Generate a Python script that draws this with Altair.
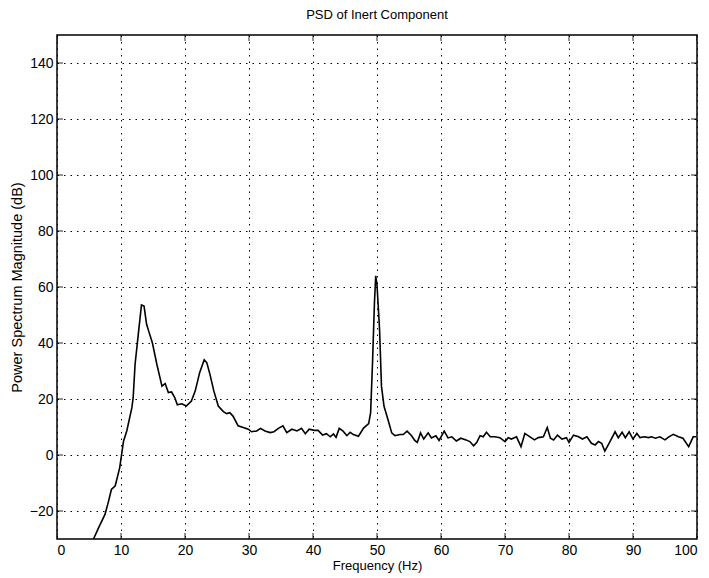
import altair as alt
import pandas as pd

# Frequency (Hz) and PSD magnitude (dB)
freq = [5.7, 6.6, 7.5, 8.0, 8.5, 9.1, 9.8, 10.4, 10.9, 11.7, 11.9, 12.2, 12.7, 13.2, 13.6,
        14.0, 14.4, 14.9, 15.6, 16.4, 16.9, 17.4, 17.9, 18.4, 18.8, 19.5, 20.2, 21.0, 21.6,
        22.3, 23.0, 23.4, 23.9, 24.5, 25.2, 26.0, 26.5, 27.0, 27.5, 28.3, 29.1, 29.9, 30.4,
        31.2, 31.8, 32.5, 33.3, 33.9, 34.6, 35.3, 35.9, 36.7, 37.5, 38.2, 38.8, 39.4, 40.2,
        40.8, 41.5, 42.1, 42.7, 43.2, 43.6, 44.1, 44.7, 45.3, 45.8, 46.3, 47.1, 47.9, 48.7,
        49.0, 49.3, 49.6, 49.8, 50.0, 50.4, 50.7, 51.1, 51.8, 52.3, 52.8, 53.6, 54.1, 54.7,
        55.4, 55.9, 56.3, 56.8, 57.3, 58.0, 58.5, 59.2, 59.7, 60.5, 61.1, 61.7, 62.4, 63.1,
        63.9, 64.5, 65.1, 65.6, 66.1, 66.6, 67.1, 67.7, 68.4, 69.2, 70.0, 70.5, 71.0, 71.8,
        72.5, 73.1, 73.9, 74.6, 75.2, 76.0, 76.6, 77.1, 77.6, 78.2, 78.9, 79.6, 80.0, 80.7,
        81.5, 82.1, 82.8, 83.5, 84.1, 84.6, 85.1, 85.6, 86.4, 87.2, 87.7, 88.3, 88.8, 89.4,
        90.0, 90.6, 91.1, 91.8, 92.4, 92.9, 93.5, 94.2, 95.0, 95.6, 96.3, 97.1, 97.8, 98.7,
        99.4, 99.9]
psd = [-30.0, -25.5, -21.2, -17.0, -12.3, -11.0, -4.5, 5.0, 8.6, 16.9, 20.5, 32.4, 43.1, 53.6, 53.2,
       46.7, 43.7, 40.1, 32.4, 24.6, 25.5, 22.3, 22.5, 20.5, 17.9, 18.3, 17.5, 19.3, 22.9,
       29.5, 34.0, 33.0, 28.8, 22.9, 17.5, 15.5, 14.8, 15.1, 13.9, 10.4, 9.8, 9.2, 8.3,
       8.6, 9.5, 8.6, 8.0, 8.3, 9.5, 10.4, 8.0, 9.2, 8.6, 9.5, 7.6, 9.2, 8.8,
       8.8, 7.1, 7.6, 6.5, 7.5, 6.3, 9.5, 8.5, 6.9, 8.1, 7.3, 6.7, 9.6, 11.2,
       15.0, 32.9, 54.3, 64.0, 60.8, 44.8, 24.5, 17.4, 12.0, 7.9, 6.9, 7.3, 7.3, 8.5,
       6.9, 5.2, 4.5, 7.9, 5.7, 7.9, 6.1, 6.9, 5.2, 8.5, 6.1, 6.5, 5.0, 6.0,
       5.4, 4.8, 3.3, 4.5, 6.9, 6.5, 8.1, 6.5, 6.5, 6.2, 4.8, 6.2, 5.7, 6.5,
       3.0, 7.7, 6.5, 5.4, 6.2, 6.5, 9.8, 6.0, 5.4, 7.1, 5.7, 6.2, 4.5, 7.1,
       6.5, 5.7, 6.5, 4.2, 3.6, 4.8, 4.2, 1.4, 4.8, 8.3, 6.2, 8.1, 6.2, 8.3,
       5.7, 7.7, 6.2, 6.5, 6.2, 6.5, 6.0, 6.5, 5.4, 6.5, 7.4, 6.5, 6.0, 3.0,
       6.5, 6.5]

x_ticks = [0, 10, 20, 30, 40, 50, 60, 70, 80, 90, 100]
y_ticks = [-20, 0, 20, 40, 60, 80, 100, 120, 140]

df = pd.DataFrame({"f": freq, "p": psd})
xt = pd.DataFrame({"f": x_ticks})
yt = pd.DataFrame({"p": y_ticks})

FONT = "Liberation Sans"
xscale = alt.Scale(domain=[0, 100], nice=False, zero=False)
yscale = alt.Scale(domain=[-30, 150], nice=False, zero=False)
xaxis = alt.Axis(title="Frequency (Hz)", values=x_ticks, grid=True)
yaxis = alt.Axis(title="Power Spectrum Magnitude (dB)", values=y_ticks, grid=True)

line = alt.Chart(df).mark_line(color="black", strokeWidth=1.6, clip=True).encode(
    x=alt.X("f:Q", scale=xscale, axis=xaxis),
    y=alt.Y("p:Q", scale=yscale, axis=yaxis),
    order="f:Q",
)

tick_style = dict(color="black", size=12, thickness=1.2, clip=True)

xtick_bot = alt.Chart(xt).mark_tick(orient="vertical", **tick_style).encode(
    x=alt.X("f:Q", scale=xscale, axis=xaxis), y=alt.datum(-30, scale=yscale))
xtick_top = alt.Chart(xt).mark_tick(orient="vertical", **tick_style).encode(
    x=alt.X("f:Q", scale=xscale, axis=xaxis), y=alt.datum(150, scale=yscale))
ytick_l = alt.Chart(yt).mark_tick(orient="horizontal", **tick_style).encode(
    y=alt.Y("p:Q", scale=yscale, axis=yaxis), x=alt.datum(0, scale=xscale))
ytick_r = alt.Chart(yt).mark_tick(orient="horizontal", **tick_style).encode(
    y=alt.Y("p:Q", scale=yscale, axis=yaxis), x=alt.datum(100, scale=xscale))

chart = alt.layer(line, xtick_bot, xtick_top, ytick_l, ytick_r).properties(
    width=640, height=504,
    title=alt.TitleParams("PSD of Inert Component", font=FONT, fontSize=13,
                          fontWeight="normal", color="black", offset=13, anchor="middle"),
    autosize=alt.AutoSizeParams(type="none"),
    padding={"left": 49, "top": 27, "right": 4, "bottom": 35},
).configure_view(
    stroke="black", strokeWidth=1.5
).configure_axis(
    labelFont=FONT, titleFont=FONT, labelFontSize=14, titleFontSize=13,
    labelColor="black", titleColor="black", titleFontWeight="normal",
    domain=False, ticks=False, tickSize=0, labelPadding=4,
    gridColor="black", gridOpacity=1, gridDash=[1.5, 5], gridWidth=1,
).configure_axisX(
    titlePadding=2
).configure_axisY(
    titlePadding=5, titleFontSize=14.5
)

chart.save("out.html", embed_options={"renderer": "svg", "actions": False})
